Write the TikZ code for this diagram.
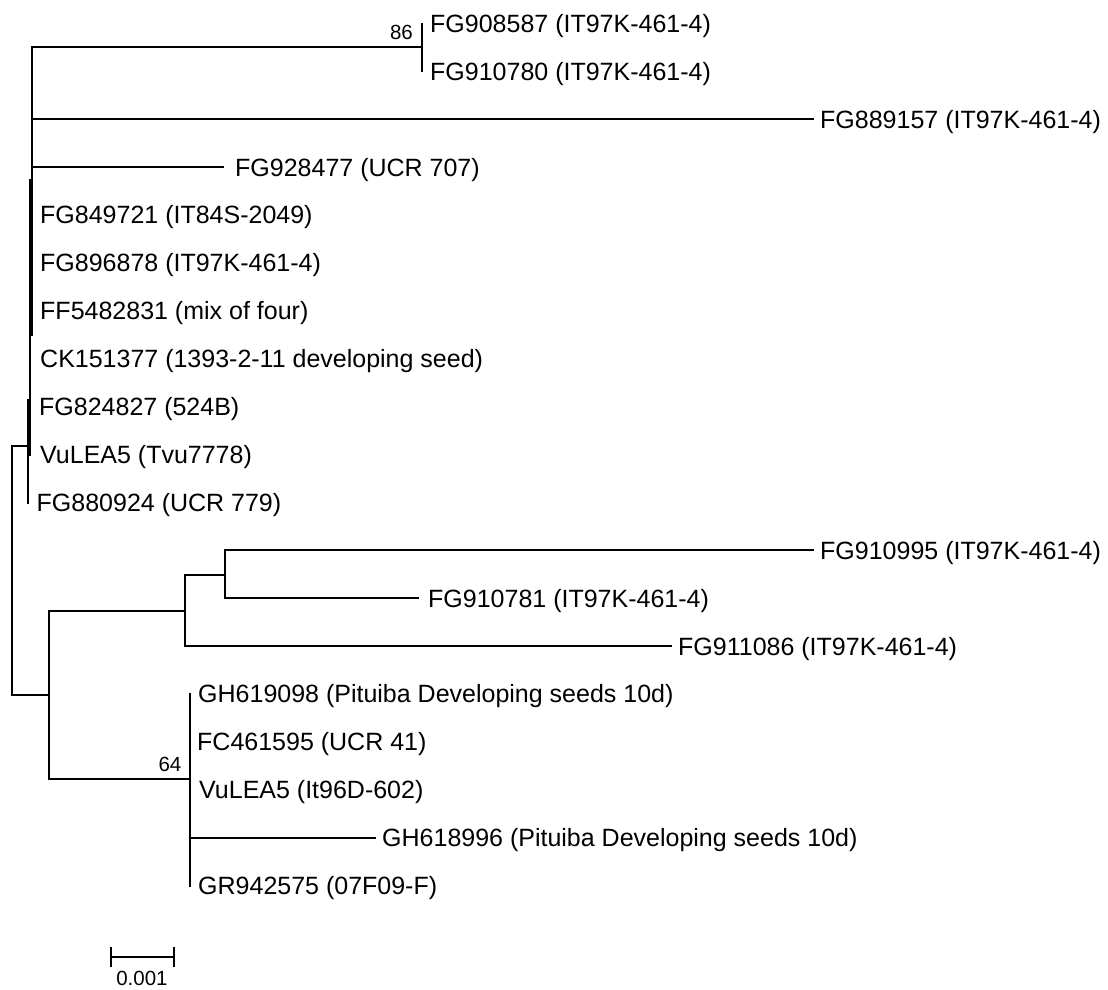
\documentclass[tikz,border=0pt]{standalone}
\usepackage{fontspec}
\setmainfont{Liberation Sans}
\begin{document}
\begin{tikzpicture}[x=1pt,y=-1pt,
  br/.style={line width=2pt, line cap=rect},
  lab/.style={anchor=base west, inner sep=0pt, font=\fontsize{25}{29}\selectfont},
  boot/.style={anchor=base east, inner sep=0pt, font=\fontsize{20.5}{24}\selectfont},
  sclab/.style={anchor=base, inner sep=0pt, font=\fontsize{20.5}{24}\selectfont}]
\useasboundingbox (0,0) rectangle (1108,989);
% tips
\coordinate (t0) at (422,23.5);
\coordinate (t1) at (422,71.4);
\coordinate (t2) at (813,119.3);
\coordinate (t3) at (223,167.2);
\coordinate (t11) at (813,550.4);
\coordinate (t12) at (418,598.3);
\coordinate (t13) at (671,646.2);
\coordinate (t14) at (190,694.1);
\coordinate (t15) at (190,742);
\coordinate (t16) at (190,789.9);
\coordinate (t17) at (375,837.8);
\coordinate (t18) at (190,885.7);
% internal nodes
\coordinate (R) at (12,570.5);
\coordinate (U) at (27.5,446);
\coordinate (Ua) at (27.5,400);
\coordinate (Ub) at (27.5,502.5);
\coordinate (Uc) at (29.5,180);
\coordinate (Ud) at (29.5,455);
\coordinate (Ue) at (32,47);
\coordinate (Uf) at (32,335);
\coordinate (c86) at (422,47);
\coordinate (L) at (49,695);
\coordinate (L1) at (185,611);
\coordinate (L11) at (225,575.4);
\coordinate (L2) at (190,779);
% branches
\draw[br] (R) |- (U);
\draw[br] (R) |- (L);
\draw[br] (Ua) -- (Ub);
\draw[br] (Uc) -- (Ud);
\draw[br] (Ue) -- (Uf);
\draw[br] (Ue) -- (c86);
\draw[br] (c86) |- (t0);
\draw[br] (c86) |- (t1);
\draw[br] (Ue |- t2) -- (t2);
\draw[br] (Ue |- t3) -- (t3);
\draw[br] (L) |- (L1);
\draw[br] (L) |- (L2);
\draw[br] (L1) |- (L11);
\draw[br] (L1) |- (t13);
\draw[br] (L11) |- (t11);
\draw[br] (L11) |- (t12);
\draw[br] (L2) |- (t14);
\draw[br] (L2) |- (t18);
\draw[br] (L2 |- t17) -- (t17);
% labels
\node[lab] (l0) at (430,32.3) {FG908587 (IT97K-461-4)};
\node[lab] (l1) at (430,80.2) {FG910780 (IT97K-461-4)};
\node[lab] (l2) at (820,128.1) {FG889157 (IT97K-461-4)};
\node[lab] (l3) at (235,176.0) {FG928477 (UCR 707)};
\node[lab] (l4) at (40,223.9) {FG849721 (IT84S-2049)};
\node[lab] (l5) at (40,271.8) {FG896878 (IT97K-461-4)};
\node[lab] (l6) at (40,319.7) {FF5482831 (mix of four)};
\node[lab] (l7) at (40,367.6) {CK151377 (1393-2-11 developing seed)};
\node[lab] (l8) at (39,415.5) {FG824827 (524B)};
\node[lab] (l9) at (40,463.4) {VuLEA5 (Tvu7778)};
\node[lab] (l10) at (36.5,511.3) {FG880924 (UCR 779)};
\node[lab] (l11) at (820,559.2) {FG910995 (IT97K-461-4)};
\node[lab] (l12) at (428,607.1) {FG910781 (IT97K-461-4)};
\node[lab] (l13) at (678,655.0) {FG911086 (IT97K-461-4)};
\node[lab] (l14) at (198,702.9) {GH619098 (Pituiba Developing seeds 10d)};
\node[lab] (l15) at (197,750.8) {FC461595 (UCR 41)};
\node[lab] (l16) at (199,798.7) {VuLEA5 (It96D-602)};
\node[lab] (l17) at (382,846.6) {GH618996 (Pituiba Developing seeds 10d)};
\node[lab] (l18) at (198,894.5) {GR942575 (07F09-F)};
% bootstrap values
\node[boot] (b86) at (413,39.3) {86};
\node[boot] (b64) at (181.5,771.3) {64};
% scale bar
\coordinate (sb1) at (111,957);
\coordinate (sb2) at (174,957);
\draw[br] (sb1) -- (sb2);
\draw[br] ([yshift=9pt]sb1) -- ([yshift=-9pt]sb1);
\draw[br] ([yshift=9pt]sb2) -- ([yshift=-9pt]sb2);
\node[sclab] (sbl) at (142,985.5) {0.001};
\end{tikzpicture}
\end{document}
